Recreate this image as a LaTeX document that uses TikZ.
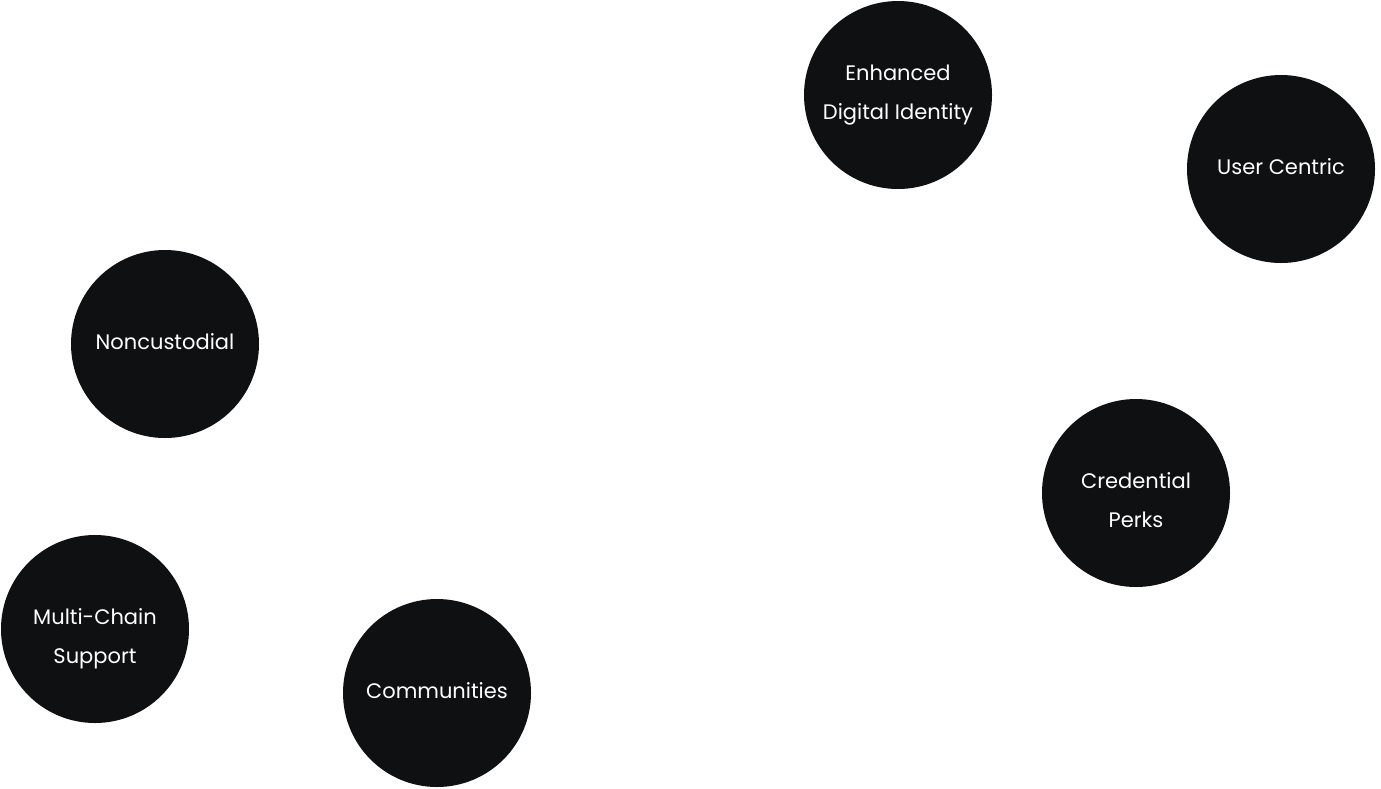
\documentclass[tikz,border=0pt]{standalone}
\usepackage{fontspec}
\setmainfont{Poppins}
\definecolor{bubble}{HTML}{0F1012}
\begin{document}
\begin{tikzpicture}[x=1pt,y=-1pt,
  bubblenode/.style={circle,fill=bubble,minimum size=188pt,inner sep=0pt},
  bubbletext/.style={text=white,align=center,inner sep=0pt,
    font=\fontsize{21}{39}\selectfont}]
\useasboundingbox (0,0) rectangle (1381,788);
% circles
\node[bubblenode] (identity) at (898,95) {};
\node[bubblenode] (user) at (1281,169) {};
\node[bubblenode] (noncust) at (165,344) {};
\node[bubblenode] (perks) at (1136,493) {};
\node[bubblenode] (chain) at (95,629) {};
\node[bubblenode] (comm) at (437,693) {};
% labels
\node[bubbletext] (identityT) at ([yshift=0pt]identity.center) {Enhanced\\Digital Identity};
\node[bubbletext] (userT) at ([yshift=2pt]user.center) {User Centric};
\node[bubbletext] (noncustT) at ([yshift=2pt]noncust.center) {Noncustodial};
\node[bubbletext] (perksT) at ([yshift=-7pt]perks.center) {Credential\\Perks};
\node[bubbletext] (chainT) at ([yshift=-10pt]chain.center) {Multi-Chain\\Support};
\node[bubbletext] (commT) at ([yshift=2pt]comm.center) {Communities};
\end{tikzpicture}
\end{document}
